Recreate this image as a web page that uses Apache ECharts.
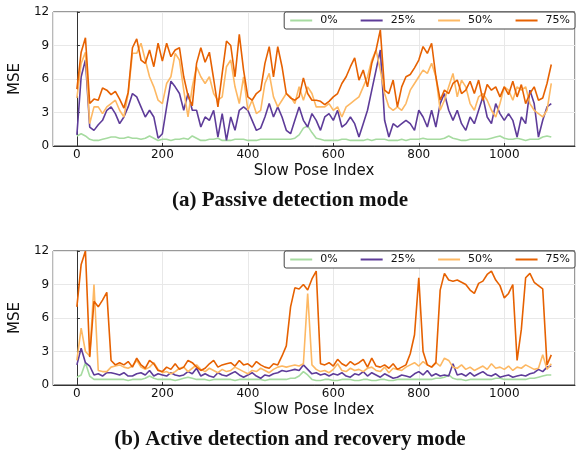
<!DOCTYPE html>
<html>
<head>
<meta charset="utf-8">
<script src="https://cdn.jsdelivr.net/npm/echarts@6/dist/echarts.min.js"></script>
<style>
  html, body { margin: 0; padding: 0; background: #fff; }
  #chart { width: 576px; height: 455px; }
</style>
</head>
<body>
<div id="chart"></div>
<script>
// one sample every 10 poses
const step = 10;
const seriesNames = ['0%', '25%', '50%', '75%'];
const colors = ['#a6dba0', '#5e3c99', '#fdb863', '#e66101'];
const xTicks = [0, 200, 400, 600, 800, 1000];

// (a) passive detection mode
const passive0 = [
  0.9, 1.1, 0.9, 0.6, 0.5, 0.5, 0.6, 0.7, 0.8, 0.8,
  0.7, 0.7, 0.8, 0.7, 0.7, 0.6, 0.7, 0.9, 0.7, 0.5,
  0.6, 0.6, 0.5, 0.6, 0.6, 0.7, 0.6, 0.9, 0.7, 0.5,
  0.5, 0.6, 0.6, 0.7, 0.5, 0.5, 0.5, 0.6, 0.6, 0.6,
  0.5, 0.5, 0.5, 0.6, 0.6, 0.6, 0.6, 0.6, 0.6, 0.6,
  0.6, 0.7, 1.0, 1.6, 1.8, 1.2, 0.7, 0.6, 0.5, 0.5,
  0.5, 0.5, 0.6, 0.6, 0.5, 0.5, 0.5, 0.5, 0.6, 0.5,
  0.6, 0.6, 0.6, 0.5, 0.5, 0.5, 0.6, 0.5, 0.6, 0.6,
  0.6, 0.7, 0.6, 0.6, 0.6, 0.6, 0.7, 0.9, 0.7, 0.6,
  0.5, 0.5, 0.6, 0.6, 0.6, 0.6, 0.6, 0.7, 0.8, 0.9,
  0.7, 0.6, 0.6, 0.7, 0.6, 0.5, 0.6, 0.6, 0.6, 0.8,
  0.9, 0.8
];
const passive25 = [
  1.0, 6.2, 7.7, 1.7, 1.4, 1.9, 2.3, 3.2, 3.5, 2.9,
  2.0, 2.6, 3.5, 4.7, 4.4, 3.5, 2.6, 3.2, 2.6, 0.7,
  1.1, 3.5, 5.8, 5.3, 4.7, 3.2, 4.7, 3.2, 3.2, 1.7,
  2.6, 2.3, 3.2, 0.8, 2.9, 0.5, 2.6, 1.4, 3.2, 3.5,
  3.2, 2.3, 1.4, 1.6, 2.6, 3.8, 2.6, 3.5, 2.6, 1.4,
  1.1, 2.3, 3.5, 2.3, 1.7, 2.9, 2.3, 1.4, 2.6, 2.9,
  2.3, 3.2, 1.7, 2.0, 2.6, 2.0, 0.8, 2.0, 3.2, 5.0,
  6.8, 8.6, 2.3, 0.8, 2.0, 1.7, 2.0, 2.3, 2.0, 1.4,
  3.2, 2.6, 1.7, 3.2, 1.7, 3.8, 4.7, 3.2, 2.3, 3.2,
  2.0, 1.4, 2.6, 2.0, 3.2, 4.4, 2.6, 2.0, 3.8, 2.9,
  2.3, 2.9, 2.3, 0.8, 2.6, 2.0, 5.0, 3.8, 0.8, 2.3,
  3.5, 3.8
];
const passive50 = [
  4.3, 7.4, 8.4, 2.0, 3.5, 3.5, 2.9, 3.5, 3.8, 4.1,
  3.2, 2.6, 4.7, 8.3, 8.3, 9.2, 7.7, 6.2, 5.3, 4.1,
  3.8, 5.6, 6.2, 8.3, 7.7, 5.0, 2.6, 5.3, 7.1, 6.2,
  5.6, 6.2, 4.7, 4.1, 4.4, 7.1, 7.7, 5.3, 3.8, 6.2,
  3.2, 4.1, 2.9, 3.2, 5.6, 6.5, 4.4, 3.5, 4.1, 4.7,
  4.4, 3.8, 5.3, 4.1, 5.3, 4.7, 3.5, 3.5, 3.5, 3.8,
  3.2, 3.5, 2.6, 3.5, 3.8, 4.1, 4.4, 5.3, 6.2, 7.7,
  8.6, 6.8, 4.7, 3.5, 3.2, 3.5, 3.2, 3.8, 5.0, 5.6,
  6.2, 6.8, 6.5, 7.4, 6.2, 3.2, 4.1, 5.3, 6.5, 4.4,
  5.9, 5.3, 3.8, 3.2, 4.4, 4.7, 4.1, 3.2, 2.6, 3.8,
  5.3, 5.0, 4.1, 5.3, 5.0, 5.3, 3.8, 3.2, 2.9, 2.6,
  3.2, 5.6
];
const passive75 = [
  5.1, 8.4, 9.7, 3.8, 4.2, 4.1, 5.2, 5.0, 4.6, 4.9,
  4.2, 3.4, 4.8, 8.8, 9.6, 7.7, 7.4, 8.6, 7.1, 9.2,
  7.6, 9.2, 8.0, 8.6, 8.8, 6.2, 4.5, 3.6, 7.4, 8.8,
  7.5, 8.4, 6.0, 3.5, 6.5, 9.4, 9.0, 6.2, 10.0, 6.8,
  4.4, 4.1, 4.7, 5.0, 7.4, 8.9, 6.2, 8.9, 7.1, 4.7,
  4.3, 4.1, 4.4, 6.1, 4.7, 4.1, 4.1, 4.0, 3.7, 4.0,
  4.4, 4.7, 5.6, 6.2, 7.1, 7.9, 5.9, 6.8, 5.3, 7.4,
  8.6, 10.4, 5.0, 4.7, 5.9, 3.5, 5.3, 6.2, 6.4, 7.0,
  7.7, 8.9, 8.3, 9.2, 6.2, 4.1, 5.0, 4.7, 5.6, 5.9,
  4.7, 5.0, 5.8, 4.7, 5.9, 4.1, 5.5, 5.0, 5.3, 4.4,
  5.3, 4.6, 5.8, 4.4, 5.5, 3.8, 4.7, 5.3, 4.1, 4.3,
  5.6, 7.3
];

// (b) active detection and recovery mode
const active0 = [
  0.7, 0.9, 2.0, 0.8, 0.5, 0.5, 0.5, 0.5, 0.5, 0.5,
  0.5, 0.5, 0.4, 0.5, 0.5, 0.5, 0.6, 0.8, 0.6, 0.5,
  0.5, 0.5, 0.5, 0.4, 0.5, 0.6, 0.7, 0.6, 0.5, 0.5,
  0.5, 0.4, 0.5, 0.5, 0.5, 0.5, 0.5, 0.4, 0.5, 0.5,
  0.5, 0.5, 0.5, 0.5, 0.4, 0.5, 0.5, 0.5, 0.5, 0.5,
  0.6, 0.6, 0.8, 1.2, 0.9, 0.5, 0.4, 0.4, 0.5, 0.5,
  0.4, 0.4, 0.5, 0.5, 0.5, 0.4, 0.4, 0.5, 0.5, 0.4,
  0.4, 0.5, 0.5, 0.4, 0.4, 0.5, 0.5, 0.5, 0.5, 0.5,
  0.5, 0.5, 0.5, 0.5, 0.6, 0.6, 0.7, 0.9, 0.6, 0.5,
  0.5, 0.4, 0.5, 0.5, 0.5, 0.5, 0.5, 0.5, 0.6, 0.6,
  0.5, 0.5, 0.5, 0.5, 0.5, 0.5, 0.6, 0.6, 0.7, 0.8,
  0.9, 0.9
];
const active25 = [
  1.8, 3.3, 2.0, 1.7, 0.9, 1.0, 0.8, 1.1, 1.1, 1.0,
  0.9, 1.1, 0.8, 0.8, 1.0, 1.1, 0.9, 1.3, 0.8, 1.0,
  0.9, 0.8, 1.1, 0.9, 0.8, 0.9, 1.2, 1.0, 1.5, 0.8,
  1.0, 0.8, 0.7, 1.1, 0.9, 0.8, 1.0, 1.2, 0.9, 0.7,
  0.9, 1.1, 0.8, 0.6, 0.9, 0.8, 1.0, 1.1, 1.3, 1.2,
  1.3, 1.4, 1.3, 1.8, 1.4, 1.0, 1.1, 0.9, 1.0, 0.8,
  1.0, 0.9, 1.1, 0.8, 0.7, 1.0, 0.9, 1.2, 0.8, 1.1,
  0.9, 0.7, 1.0, 0.8, 0.6, 0.7, 0.9, 0.8, 0.7, 1.0,
  1.2, 0.9, 1.3, 0.8, 1.0, 0.8, 0.9, 0.8, 1.9, 0.9,
  1.0, 0.8, 1.1, 0.8, 1.0, 1.2, 0.9, 0.8, 1.0, 0.7,
  0.8, 0.9, 0.7, 0.8, 0.9, 0.8, 1.0, 1.1, 1.4, 1.2,
  1.6, 1.7
];
const active50 = [
  2.2, 5.1, 3.0, 2.6, 9.0, 1.3, 1.2, 1.2, 1.6, 1.7,
  1.8, 1.6, 1.5, 1.7, 2.2, 1.6, 1.4, 1.6, 2.0, 1.4,
  1.1, 1.2, 1.0, 1.2, 1.5, 1.6, 1.2, 1.5, 1.8, 1.4,
  1.2, 1.5, 1.3, 1.1, 1.4, 1.2, 1.3, 1.6, 1.4, 1.2,
  1.0, 1.3, 1.2, 1.5, 1.3, 1.1, 1.4, 1.6, 1.7, 1.6,
  1.7, 1.8, 1.7, 1.9, 8.2, 1.8, 1.4, 1.2, 1.3, 1.1,
  1.4, 1.9, 1.3, 1.2, 1.5, 1.3, 1.4, 1.2, 1.5, 1.6,
  1.3, 1.2, 1.6, 1.1, 1.5, 1.4, 1.3, 1.6, 1.8, 2.0,
  1.7, 2.1, 1.8, 1.6, 2.0, 1.7, 2.4, 2.2, 1.6, 1.5,
  1.8, 1.4, 1.6, 1.3, 1.5, 1.7, 1.4, 1.9, 1.5, 1.6,
  1.4, 1.7, 1.3, 1.6, 1.5, 1.8, 1.6, 1.4, 1.5, 2.7,
  1.4, 1.9
];
const active75 = [
  7.0, 10.8, 12.0, 2.5, 7.5, 7.0, 7.6, 8.3, 2.2, 1.8,
  2.0, 1.8, 2.1, 1.6, 2.4, 1.8, 1.5, 2.2, 1.9, 1.3,
  1.2, 1.6, 1.4, 1.9, 1.4, 1.6, 2.2, 2.0, 1.6, 1.3,
  1.5, 1.9, 2.2, 1.6, 1.8, 1.9, 2.0, 1.7, 2.2, 1.8,
  1.9, 1.6, 2.1, 1.8, 1.6, 1.5, 1.9, 1.8, 2.6, 3.5,
  7.0, 8.7, 8.6, 9.0, 8.5, 9.5, 10.2, 1.9, 1.8, 2.0,
  1.7, 2.3, 1.9, 1.7, 2.1, 1.8, 2.0, 2.3, 1.6, 2.4,
  1.7, 1.6, 1.8, 1.5, 1.9, 1.4, 1.6, 1.8, 2.8, 4.5,
  9.6, 3.0, 1.8, 1.6, 2.0, 8.5, 10.0, 9.4, 9.3, 9.4,
  9.2, 9.0, 8.5, 8.2, 9.1, 9.3, 9.9, 10.2, 9.4, 8.9,
  7.8, 8.2, 9.0, 2.2, 5.0, 9.6, 10.0, 9.2, 8.9, 8.6,
  1.8, 2.7
];

const panels = [
  { top: 12, values: [passive0, passive25, passive50, passive75] },
  { top: 251, values: [active0, active25, active50, active75] }
];

const font = 'DejaVu Sans';
const plotHeight = 134;

let grids = [], xAxes = [], yAxes = [], legends = [], series = [];

panels.forEach((p, gi) => {
  grids.push({
    left: 48, right: 1, top: p.top, height: plotHeight,
    show: true, borderColor: '#333', borderWidth: 1
  });
  xAxes.push({
    type: 'value', gridIndex: gi, min: -55.5, max: 1165.5,
    name: 'Slow Pose Index', nameLocation: 'middle', nameGap: 18,
    nameTextStyle: { fontFamily: font, fontSize: 15, color: '#111' },
    axisLine: { lineStyle: { color: '#333' } },
    axisTick: { inside: true, length: 3, lineStyle: { color: '#333' } },
    axisLabel: {
      fontFamily: font, fontSize: 12, color: '#111', margin: 3,
      showMinLabel: false, showMaxLabel: false,
      formatter: v => xTicks.includes(v) ? String(v) : ''
    },
    splitLine: { show: true, lineStyle: { color: '#e8e8e8' } }
  });
  yAxes.push({
    type: 'value', gridIndex: gi, min: 0, max: 12, interval: 3,
    name: 'MSE', nameLocation: 'middle', nameGap: 20,
    nameTextStyle: { fontFamily: font, fontSize: 15, color: '#111' },
    axisLine: { show: true, lineStyle: { color: '#333' } },
    axisTick: { show: true, inside: true, length: 3, lineStyle: { color: '#333' } },
    axisLabel: { fontFamily: font, fontSize: 12, color: '#111', margin: 4 },
    splitLine: { show: true, lineStyle: { color: '#e8e8e8' } }
  });
  legends.push({
    data: seriesNames, right: 1, top: p.top, orient: 'horizontal',
    icon: 'rect', itemWidth: 22, itemHeight: 2, itemGap: 23,
    padding: [3, 5, 3, 6],
    backgroundColor: '#fff', borderColor: '#444', borderWidth: 1, borderRadius: 2,
    textStyle: { fontFamily: font, fontSize: 11, color: '#111', padding: [0, 0, 0, 3] },
    selectedMode: false
  });
  p.values.forEach((vals, si) => {
    series.push({
      name: seriesNames[si], type: 'line',
      xAxisIndex: gi, yAxisIndex: gi,
      symbol: 'none', showSymbol: false,
      lineStyle: { width: 1.6, color: colors[si] },
      itemStyle: { color: colors[si] },
      z: 2 + si,
      data: vals.map((v, k) => [k * step, v])
    });
  });
});

const chart = echarts.init(document.getElementById('chart'));
chart.setOption({
  animation: false,
  backgroundColor: '#fff',
  grid: grids,
  xAxis: xAxes,
  yAxis: yAxes,
  legend: legends,
  series: series,
  graphic: [
    { type: 'text', x: 290, y: 201,
      style: { text: '(a) Passive detection mode', align: 'center', verticalAlign: 'middle',
               font: 'bold 21px "Liberation Serif"', fill: '#111' } },
    { type: 'text', x: 290, y: 440,
      style: { text: '(b) Active detection and recovery mode', align: 'center', verticalAlign: 'middle',
               font: 'bold 21px "Liberation Serif"', fill: '#111' } }
  ]
});
</script>
</body>
</html>
